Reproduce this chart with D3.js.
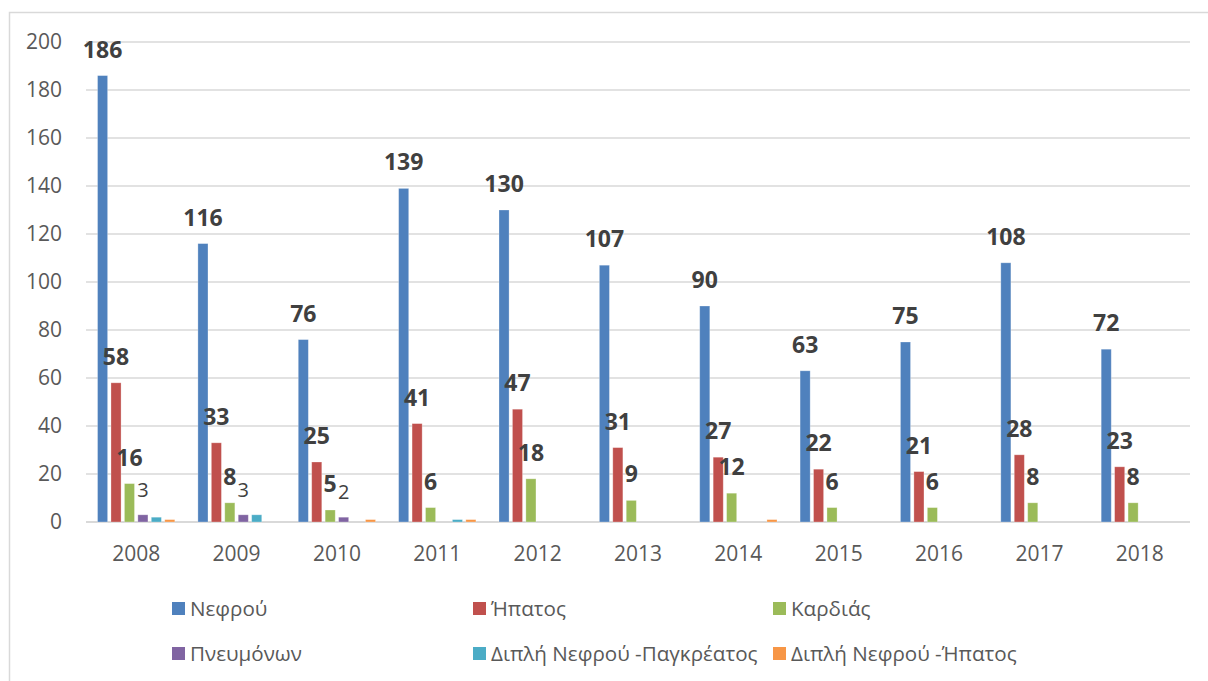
<!DOCTYPE html>
<html>
<head>
<meta charset="utf-8">
<script src="https://cdn.jsdelivr.net/npm/d3@7"></script>
<style>
    body { margin: 0; background: #fff; }
    svg { display: block; font-family: "Open Sans", sans-serif; }
    .grid line { stroke: #d9d9d9; stroke-width: 1.3; }
    .tick-label { fill: #595959; font-size: 21px; }
    .legend-label { fill: #595959; font-size: 20.6px; }
</style>
</head>
<body>
<script>
const years = ["2008", "2009", "2010", "2011", "2012", "2013", "2014", "2015", "2016", "2017", "2018"];
const seriesNames = ["Νεφρού", "Ήπατος", "Καρδιάς", "Πνευμόνων", "Διπλή Νεφρού -Παγκρέατος", "Διπλή Νεφρού -Ήπατος"];
const kidney = [186, 116, 76, 139, 130, 107, 90, 63, 75, 108, 72];
const liver = [58, 33, 25, 41, 47, 31, 27, 22, 21, 28, 23];
const heart = [16, 8, 5, 6, 18, 9, 12, 6, 6, 8, 8];
const lungs = [3, 3, 2, 0, 0, 0, 0, 0, 0, 0, 0];
const kidneyPancreas = [2, 3, 0, 1, 0, 0, 0, 0, 0, 0, 0];
const kidneyLiver = [1, 0, 1, 1, 0, 0, 1, 0, 0, 0, 0];
const yTicks = [0, 20, 40, 60, 80, 100, 120, 140, 160, 180, 200];

const colors = ["#4f81bd", "#c0504d", "#9bbb59", "#8064a2", "#4bacc6", "#f79646"];
const allSeries = [kidney, liver, heart, lungs, kidneyPancreas, kidneyLiver];

let width = 1208,
    height = 681,
    margin = {left: 86, right: 18, top: 42, bottom: 159};

let svg = d3.select("body")
    .append("svg")
        .attr("width", width)
        .attr("height", height);

// chart frame
svg.append("rect")
    .attr("x", 9.5)
    .attr("y", 12.5)
    .attr("width", 1220)
    .attr("height", 700)
    .attr("fill", "none")
    .attr("stroke", "#d9d9d9")
    .attr("stroke-width", 1.5);

let x0 = d3.scaleBand()
    .domain(years)
    .range([margin.left, width - margin.right])
    .paddingInner(0.23)
    .paddingOuter(0.115);
let x1 = d3.scaleBand()
    .domain(d3.range(seriesNames.length))
    .range([0, x0.bandwidth()])
    .paddingInner(0.25);
let y = d3.scaleLinear()
    .domain([0, 200])
    .range([height - margin.bottom, margin.top]);

let grid = svg.append("g").classed("grid", true);
grid.selectAll("line")
    .data(yTicks)
    .enter()
    .append("line")
        .attr("x1", margin.left)
        .attr("x2", width - margin.right)
        .attr("y1", d => y(d))
        .attr("y2", d => y(d))
        .style("stroke-width", d => d === 0 ? 2 : 1.3);

// strip d3's default axis font so the css applies
const plainText = g => {
    g.attr("font-family", null).attr("font-size", null);
    g.select(".domain").remove();
    g.selectAll("text")
        .attr("class", "tick-label")
        .attr("fill", null);
};

// y axis labels
let yAxis = d3.axisLeft(y).tickValues(yTicks).tickSize(0).tickPadding(0);
svg.append("g")
    .attr("transform", "translate(62,0)")
    .call(yAxis)
    .call(plainText);

// x axis labels
let xAxis = d3.axisBottom(x0).tickSize(0).tickPadding(0);
svg.append("g")
    .attr("transform", "translate(0," + (y(0) + 24) + ")")
    .call(xAxis)
    .call(plainText);

let rows = years.map((yr, i) => ({year: yr, values: allSeries.map(s => s[i])}));

let groups = svg.append("g")
    .selectAll(".year")
    .data(rows)
    .enter()
    .append("g")
        .classed("year", true)
        .attr("transform", d => "translate(" + x0(d.year) + ",0)");

groups.selectAll("rect")
    .data(d => d.values.map((v, k) => ({k: k, v: v})).filter(e => e.v > 0))
    .enter()
    .append("rect")
        .attr("x", e => x1(e.k))
        .attr("y", e => y(e.v))
        .attr("width", x1.bandwidth())
        .attr("height", e => y(0) - y(e.v))
        .attr("fill", e => colors[e.k])
        .attr("stroke", "#fff")
        .attr("stroke-opacity", 0.35)
        .attr("stroke-width", 0.8);

// value labels: first three series bold, lungs regular
groups.selectAll("text")
    .data(d => d.values.map((v, k) => ({k: k, v: v})).filter(e => e.k < 4 && e.v > 0))
    .enter()
    .append("text")
        .attr("x", e => x1(e.k) + x1.bandwidth() / 2)
        .attr("y", e => y(e.v) - 18)
        .attr("text-anchor", "middle")
        .attr("fill", "#404040")
        .style("font-size", e => e.k < 3 ? "23px" : "20px")
        .style("font-weight", e => e.k < 3 ? "bold" : "normal")
        .text(e => e.v);

// legend
let legendCols = [172, 473, 773],
    legendRows = [608.5, 653.5];
let legend = svg.append("g")
    .selectAll(".legend-item")
    .data(seriesNames)
    .enter()
    .append("g")
        .classed("legend-item", true)
        .attr("transform", (d, i) => "translate(" + legendCols[i % 3] + "," + legendRows[Math.floor(i / 3)] + ")");
legend.append("rect")
    .attr("x", 0)
    .attr("y", -6.5)
    .attr("width", 13)
    .attr("height", 13)
    .attr("fill", (d, i) => colors[i]);
legend.append("text")
    .classed("legend-label", true)
    .attr("x", 18)
    .attr("dy", "0.35em")
    .text(d => d);
</script>
</body>
</html>
